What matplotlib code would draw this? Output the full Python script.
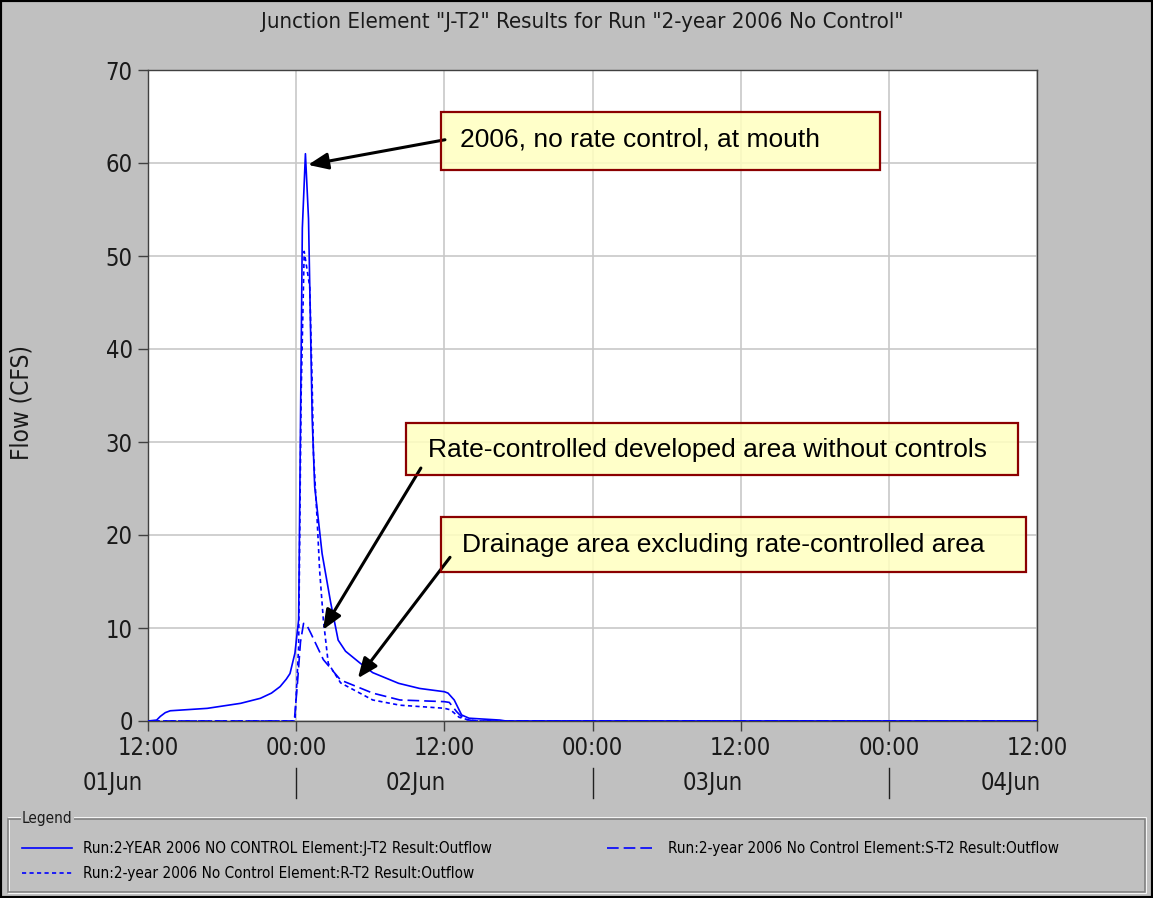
import matplotlib
matplotlib.use("Agg")
import matplotlib.pyplot as plt
from matplotlib.patches import Rectangle
from matplotlib.lines import Line2D

# hours since 12:00 01Jun
hours_j = [0, 0.7, 1.0, 1.4, 1.8, 4.8, 7.5, 9.1, 10.0, 10.7, 11.2, 11.5, 11.9, 12.2, 12.35, 12.5, 12.75,
           13.0, 13.3, 13.5, 14.1, 14.8, 15.4, 16.0, 17.2, 18.2, 20.3, 22.0, 24.0, 24.3, 24.8, 25.4,
           26.0, 28.5, 29.0, 72]
flow_j = [0, 0.1, 0.5, 0.9, 1.1, 1.36, 1.9, 2.44, 3.0, 3.7, 4.5, 5.1, 7.3, 10.9, 32, 53, 61,
          54, 32.4, 25.2, 18.0, 12.7, 8.7, 7.5, 6.2, 5.2, 4.05, 3.5, 3.15, 3.0, 2.26, 0.65,
          0.3, 0.1, 0, 0]

hours_s = [0, 11.85, 12.1, 12.35, 12.6, 12.9, 13.2, 14.2, 15.6, 18.2, 20.4, 24.0, 24.4, 25.0, 25.6, 26.5, 72]
flow_s = [0, 0, 4.0, 8.5, 10.5, 10.2, 9.4, 6.6, 4.4, 3.0, 2.26, 2.08, 2.0, 1.0, 0.2, 0, 0]

hours_r = [0, 11.9, 12.2, 12.4, 12.65, 13.1, 13.3, 13.4, 13.7, 13.9, 14.2, 14.6, 15.6, 18.2, 20.4,
           24.0, 24.5, 25.2, 26.0, 27.0, 72]
flow_r = [0, 0, 8, 35, 50.5, 46.7, 35.9, 28.8, 21.6, 16.2, 10.9, 6.2, 4.1, 2.26, 1.7,
          1.37, 1.2, 0.4, 0.1, 0, 0]

x_ticks = [0, 12, 24, 36, 48, 60, 72]
x_labels = ["12:00", "00:00", "12:00", "00:00", "12:00", "00:00", "12:00"]
day_pos = [-2.9, 21.7, 45.7, 69.9]
day_labels = ["01Jun", "02Jun", "03Jun", "04Jun"]
y_ticks = [0, 10, 20, 30, 40, 50, 60, 70]

labels = ["Run:2-YEAR 2006 NO CONTROL Element:J-T2 Result:Outflow",
          "Run:2-year 2006 No Control Element:R-T2 Result:Outflow",
          "Run:2-year 2006 No Control Element:S-T2 Result:Outflow"]

plt.rcParams['font.family'] = ['DejaVu Sans']
plt.rcParams['font.stretch'] = 'condensed'

W, H = 1153, 898
fig = plt.figure(figsize=(W / 100, H / 100), dpi=100, facecolor="#c0c0c0")
ax = fig.add_axes([148 / W, 1 - 721 / H, (1037 - 148) / W, (721 - 70) / H])
ax.set_facecolor("white")

blue = "#0000ff"
ax.plot(hours_j, flow_j, color=blue, lw=1.2, zorder=3)
ax.plot(hours_s, flow_s, color=blue, lw=1.2, dashes=(7, 3), zorder=3)
ax.plot(hours_r, flow_r, color=blue, lw=1.2, dashes=(2.5, 2), zorder=3)

ax.set_xlim(0, 72)
ax.set_ylim(0, 70)
ax.set_xticks(x_ticks)
ax.set_xticklabels(x_labels)
ax.set_yticks(y_ticks)
ax.grid(True, color="#c8c8c8", lw=1.2)
ax.set_axisbelow(True)
ax.tick_params(labelsize=17, length=7, width=1, color="#404040", labelcolor="#1a1a1a", pad=4)
for sp in ax.spines.values():
    sp.set_color("#404040")
    sp.set_linewidth(1)

tr = ax.get_xaxis_transform()
for p, lab in zip(day_pos, day_labels):
    ax.text(p, -0.095, lab, transform=tr, ha="center", va="center", fontsize=17, color="#1a1a1a", clip_on=False)
for p in [12, 36, 60]:
    ax.plot([p, p], [-0.072, -0.118], transform=tr, color="#202020", lw=1, clip_on=False)

fig.text(582 / W, 1 - 22 / H, 'Junction Element "J-T2" Results for Run "2-year 2006 No Control"',
         ha="center", va="center", fontsize=15.9, color="#1a1a1a")
fig.text(22 / W, 1 - 402 / H, "Flow (CFS)", rotation=90, ha="center", va="center", fontsize=17.5, color="#1a1a1a")

# annotation boxes
boxes = [((23.73, 59.2), 35.57, 6.3, (25.3, 62.5), "2006, no rate control, at mouth",
          (24.05, 62.5), (12.96, 59.8)),
         ((20.9, 26.45), 49.6, 5.55, (22.7, 29.1), "Rate-controlled developed area without controls",
          (22.1, 27.2), (14.17, 9.8)),
         ((23.73, 16.0), 47.37, 5.9, (25.4, 18.9), "Drainage area excluding rate-controlled area",
          (24.46, 17.6), (17.0, 4.6))]
for (xy, w, h, txy, txt, tail, tip) in boxes:
    ax.annotate("", xy=tip, xytext=tail,
                arrowprops=dict(arrowstyle="-|>,head_length=1.2,head_width=0.5", color="black", lw=2.2,
                                shrinkA=0, shrinkB=0), zorder=6)
    ax.add_patch(Rectangle(xy, w, h, facecolor="#ffffc0", alpha=0.85, edgecolor="none", zorder=5))
    ax.add_patch(Rectangle(xy, w, h, facecolor="none", edgecolor="#8b0000", lw=1.6, zorder=6))
    ax.text(txy[0], txy[1], txt, ha="left", va="center", fontsize=19, family="Liberation Sans",
            fontstretch="normal", color="black", zorder=7)

# legend frame
fig.patches.append(Rectangle((9 / W, 1 - 893 / H), (1146 - 9) / W, (893 - 818) / H, transform=fig.transFigure,
                             facecolor="none", edgecolor="white", lw=1.2))
fig.patches.append(Rectangle((8 / W, 1 - 892 / H), (1145 - 8) / W, (892 - 819) / H, transform=fig.transFigure,
                             facecolor="none", edgecolor="#808080", lw=1.2))
fig.text(22 / W, 1 - 819 / H, "Legend", ha="left", va="center", fontsize=11, color="#1a1a1a",
         bbox=dict(facecolor="#c0c0c0", edgecolor="none", pad=1))

handles = [Line2D([], [], color=blue, lw=1.2),
           Line2D([], [], color=blue, lw=1.2, dashes=(2.5, 2)),
           Line2D([], [], color=blue, lw=1.2, dashes=(7, 3))]
fig.legend(handles, labels, ncol=2, loc="upper left", bbox_to_anchor=(22 / W, 1 - 841 / H),
           frameon=False, fontsize=11, handlelength=3.3, handletextpad=0.7, columnspacing=7.5,
           labelspacing=0.65, borderpad=0, borderaxespad=0)

fig.patches.append(Rectangle((0, 0), 1, 1, transform=fig.transFigure, facecolor="none",
                             edgecolor="black", lw=3))

fig.savefig("out.png", dpi=100, facecolor=fig.get_facecolor())
